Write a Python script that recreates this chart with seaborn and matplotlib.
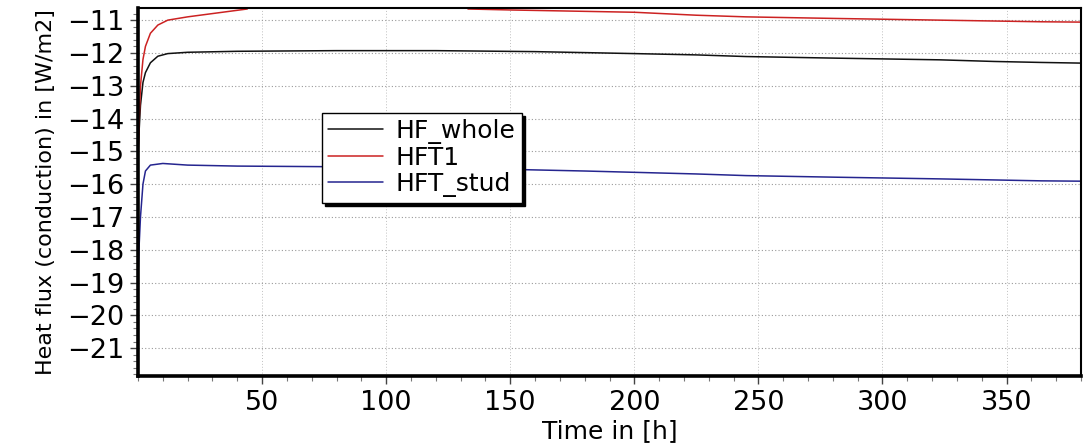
import matplotlib
matplotlib.use("Agg")
import matplotlib.pyplot as plt
from matplotlib.ticker import MultipleLocator
import seaborn as sns
import pandas as pd

# ---- data ----
series_names = ["HF_whole", "HFT1", "HFT_stud"]

time_whole = [0, 0.5, 1, 2, 3, 5, 8, 12, 20, 40, 80, 120, 160, 200, 225, 245, 282, 323, 345, 364, 380]
flux_whole = [-15.0, -14.3, -13.6, -12.9, -12.6, -12.3, -12.1, -12.02, -11.98, -11.95, -11.93, -11.93,
              -11.96, -12.02, -12.06, -12.11, -12.16, -12.21, -12.26, -12.29, -12.31]

time_t1 = [0, 0.5, 1, 2, 3, 5, 8, 12, 20, 30, 40, 44, 50, 80, 110, 128, 133, 150, 200, 225, 245, 282, 323, 364, 380]
flux_t1 = [-15.3, -14.0, -13.0, -12.2, -11.8, -11.4, -11.15, -11.0, -10.9, -10.8, -10.7, -10.66, -10.0,
           -9.9, -9.9, -10.2, -10.66, -10.69, -10.76, -10.85, -10.9, -10.95, -11.0, -11.05, -11.06]

time_stud = [0, 0.5, 1, 2, 3, 5, 10, 20, 40, 60, 100, 130, 150, 180, 225, 245, 282, 323, 364, 380]
flux_stud = [-18.8, -17.8, -17.0, -16.0, -15.6, -15.42, -15.37, -15.42, -15.45, -15.46, -15.48, -15.5,
             -15.55, -15.6, -15.69, -15.74, -15.79, -15.84, -15.9, -15.91]

x_ticks = [50, 100, 150, 200, 250, 300, 350]
y_ticks = [-11, -12, -13, -14, -15, -16, -17, -18, -19, -20, -21]

colors = {"HF_whole": "#111111", "HFT1": "#cc2222", "HFT_stud": "#25258f"}

df = pd.concat([
    pd.DataFrame({"time": time_whole, "flux": flux_whole, "series": "HF_whole"}),
    pd.DataFrame({"time": time_t1, "flux": flux_t1, "series": "HFT1"}),
    pd.DataFrame({"time": time_stud, "flux": flux_stud, "series": "HFT_stud"}),
], ignore_index=True)

sns.set_theme(style="white")
plt.rcParams["font.family"] = ["DejaVu Sans"]
plt.rcParams["text.color"] = "black"
plt.rcParams["axes.labelcolor"] = "black"
plt.rcParams["xtick.color"] = "black"
plt.rcParams["ytick.color"] = "black"

fig = plt.figure(figsize=(10.86, 4.45), dpi=100)
ax = fig.add_axes([138 / 1086, 1 - 376 / 445, (1081 - 138) / 1086, (376 - 8) / 445])

sns.lineplot(data=df, x="time", y="flux", hue="series", hue_order=series_names,
             palette=colors, estimator=None, sort=False, linewidth=1.1, ax=ax, legend=True)

ax.set_xlim(0, 380)
ax.set_ylim(-21.85, -10.63)
ax.set_xticks(x_ticks)
ax.set_yticks(y_ticks)
ax.xaxis.set_minor_locator(MultipleLocator(10))
ax.yaxis.set_minor_locator(MultipleLocator(0.2))

ax.grid(True, which="major", axis="y", linestyle=(0, (1, 2)), color="#9a9a9a", linewidth=0.8)
ax.grid(True, which="major", axis="x", linestyle=(0, (1, 2)), color="#c0c0c0", linewidth=0.7)

ax.tick_params(axis="both", which="major", direction="out", length=6, width=1,
               color="#444444", labelcolor="black", labelsize=19.5, pad=4, left=True, bottom=True)
ax.tick_params(axis="both", which="minor", direction="out", length=3.5, width=0.8,
               color="#777777", left=True, bottom=True)

for side in ["left", "bottom"]:
    ax.spines[side].set_linewidth(2.6)
    ax.spines[side].set_color("black")
for side in ["top", "right"]:
    ax.spines[side].set_linewidth(1.5)
    ax.spines[side].set_color("black")
    ax.spines[side].set_zorder(5)

ax.set_xlabel("Time in [h]", fontsize=18, labelpad=2, color="black")
ax.set_ylabel("Heat flux (conduction) in [W/m2]", fontsize=16, labelpad=8, color="black")

handles, labels = ax.get_legend_handles_labels()
leg = ax.legend(handles, labels, loc="upper left", bbox_to_anchor=(0.195, 0.715),
                borderaxespad=0, frameon=True, fancybox=False,
                shadow={"color": "black", "alpha": 1.0},
                edgecolor="black", facecolor="white", framealpha=1,
                fontsize=18, handlelength=2.2, handletextpad=0.5,
                labelspacing=0.08, borderpad=0.25)
leg.get_frame().set_linewidth(1.0)
for t in leg.get_texts():
    t.set_color("black")

fig.savefig("out.png", dpi=100)
